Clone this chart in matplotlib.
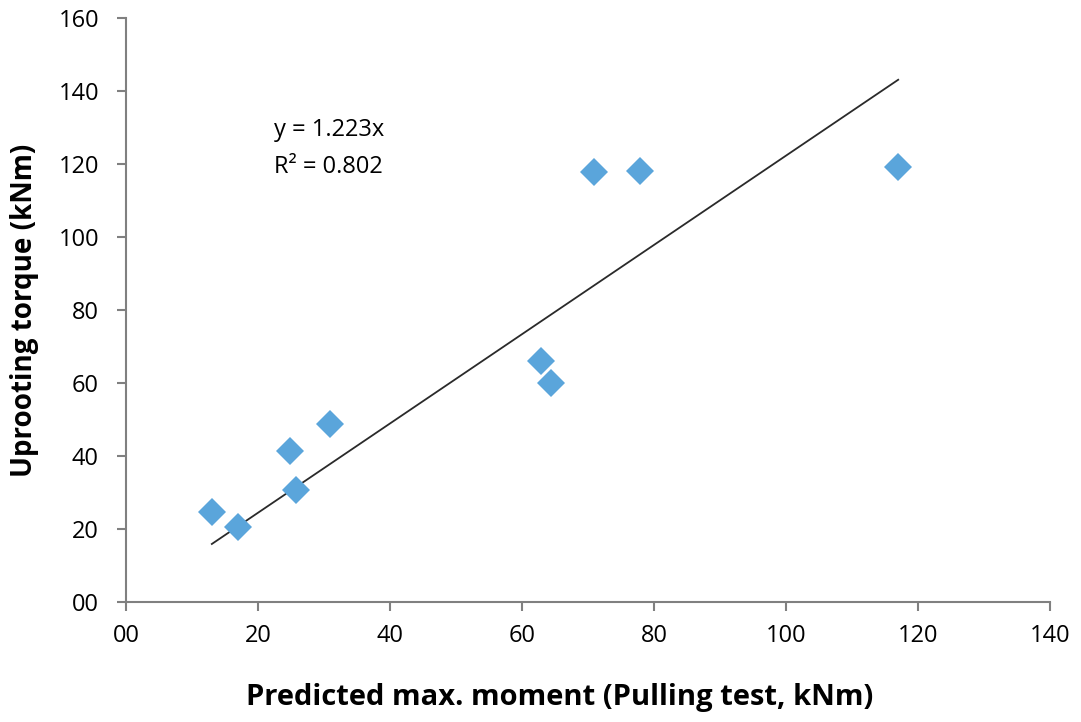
import matplotlib.pyplot as plt
import numpy as np

predicted = [13.0, 17.0, 24.8, 25.8, 30.9, 62.9, 64.4, 70.9, 77.9, 117.0]
uprooting = [24.7, 20.5, 41.4, 30.7, 48.8, 66.0, 60.0, 117.8, 118.1, 119.2]
slope = 1.223
xticks = [0, 20, 40, 60, 80, 100, 120, 140]
xlabels = ['00', '20', '40', '60', '80', '100', '120', '140']
yticks = [0, 20, 40, 60, 80, 100, 120, 140, 160]
ylabels = ['00', '20', '40', '60', '80', '100', '120', '140', '160']

plt.rcParams['font.family'] = ['Open Sans', 'DejaVu Sans']

fig = plt.figure(figsize=(10.81, 7.22), dpi=100)
ax = fig.add_axes([0.1166, 0.1662, 0.8547, 0.8088])

ax.plot(predicted, uprooting, 'D', color='#5aa5db', markersize=14.5, markeredgewidth=0, zorder=3)

# trendline through origin
xl = np.array([min(predicted), max(predicted)])
ax.plot(xl, slope * xl, color='#2a2a2a', linewidth=1.3, zorder=2)

ax.text(22.4, 129.3, 'y = 1.223x', fontsize=17, va='center', ha='left', color='black')
ax.text(22.4, 119.3, 'R² = 0.802', fontsize=17, va='center', ha='left', color='black')

ax.set_xlim(0, 140)
ax.set_ylim(0, 160)
ax.set_xticks(xticks)
ax.set_xticklabels(xlabels)
ax.set_yticks(yticks)
ax.set_yticklabels(ylabels)
ax.tick_params(labelsize=17, direction='out', length=6.5, width=1.5, color='#808080', labelcolor='black')
ax.tick_params(axis='y', pad=13)
ax.tick_params(axis='x', pad=9)
for s in ['top', 'right']:
    ax.spines[s].set_visible(False)
for s in ['left', 'bottom']:
    ax.spines[s].set_color('#808080')
    ax.spines[s].set_linewidth(1.5)

ax.set_xlabel('Predicted max. moment (Pulling test, kNm)', fontsize=21, fontweight='bold')
ax.xaxis.set_label_coords(0.469, -0.138)
ax.set_ylabel('Uprooting torque (kNm)', fontsize=20, fontweight='bold', labelpad=14)

fig.savefig('out.png', dpi=100)
